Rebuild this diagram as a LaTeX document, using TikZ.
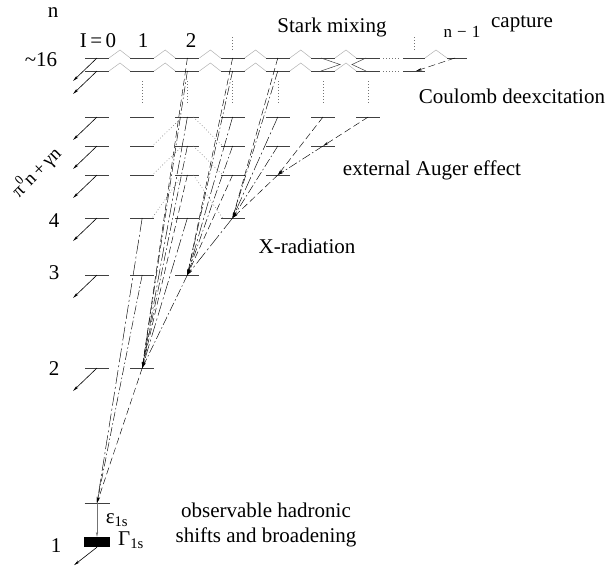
\documentclass[tikz,border=0pt]{standalone}
\usepackage{fontspec}
\setmainfont{Liberation Serif}
\usetikzlibrary{arrows.meta}
\tikzset{
  level/.style={black!75,line width=.6pt},
  decay/.style={-{Stealth[length=6pt,width=2.6pt]},line width=.6pt},
  tra/.style={-{Stealth[length=6pt,width=2.4pt]},line width=.45pt,dash pattern=on 7pt off 3.5pt},
  trb/.style={-{Stealth[length=6pt,width=2.4pt]},line width=.45pt,dash pattern=on 9pt off 2.5pt on 1.5pt off 2.5pt},
  trc/.style={-{Stealth[length=6pt,width=2.4pt]},line width=.45pt,dash pattern=on 14pt off 3pt on 2pt off 3pt},
  stark/.style={black!30,line width=.5pt},
  cdx/.style={black!55,line width=.6pt,dash pattern=on .7pt off 2.3pt},
  eps/.style={black!55,line width=.6pt,-{Stealth[length=5pt,width=2.4pt]}},
  lbl/.style={font=\fontsize{21}{24.5}\selectfont}
}
\begin{document}
\begin{tikzpicture}[x=1pt,y=-1pt,inner sep=0pt]
\useasboundingbox (0,0) rectangle (608,566);
% levels
\foreach \n/\y/\m in {7/117/6,6/146/5,5/175/4,4/218/3,3/275/2,2/368/1,a/58/6,b/71/6}
  \foreach \l in {0,...,\m}{
    \coordinate (L\n\l) at ({97+45.2*\l},\y);
    \draw[level] ([xshift=-12pt]L\n\l) -- ([xshift=12pt]L\n\l);}
\coordinate (La-n2) at (414,58);\coordinate (Lb-n2) at (414,71);\coordinate (La-n1) at (457,58);
\draw[level] ([xshift=-11pt]La-n2) -- ([xshift=11pt]La-n2);
\draw[level] ([xshift=-11pt]Lb-n2) -- ([xshift=11pt]Lb-n2);
\draw[level] ([xshift=-10pt]La-n1) -- ([xshift=10pt]La-n1);
\coordinate (L10) at (97,503);
\draw[level] ([xshift=-12.5pt]L10) -- ([xshift=12.5pt]L10);
\node[fill=black,minimum width=26pt,minimum height=10pt] (bar) at (97,542) {};
% stark mixing and ladders
\foreach \r in {a,b}{
  \foreach \l [evaluate=\l as \k using int(\l+1)] in {0,...,5}
    \draw[stark] ([xshift=12pt]L\r\l) -- ++(11,-8) -- ([xshift=-12pt]L\r\k);
  \draw[cdx] ([xshift=15pt]L\r6) -- ([xshift=-14pt]L\r-n2);}
\draw[stark] ([xshift=11pt]La-n2) -- ++(11,-8) -- ([xshift=-10pt]La-n1);
\draw[level,line width=.5pt] (321,58) -- (340,64.5) -- (321,71);
\draw[level,line width=.5pt] (366,58) -- (352,64.5) -- (366,71);
\foreach \l in {1,...,6} \draw[cdx] ([yshift=-10pt]Lb\l) -- ([yshift=14pt]L7\l);
\draw[cdx] ([yshift=8pt]La3) -- ([yshift=21pt]La3);
\draw[cdx] ([yshift=8pt]La-n2) -- ([yshift=21pt]La-n2);
\foreach \n/\m in {7/6,6/5,5/4}{
  \draw[cdx] ([xshift=-5pt]L\n2) -- ([xshift=10pt]L\m1);
  \draw[cdx] ([xshift=6pt]L\n2) -- ([xshift=-10pt]L\m3);}
% decays
\foreach \s in {a0,b0,70,60,50,40,30,20}{
  \path (L\s) ++(-24,23) coordinate (E\s);
  \draw[decay] (L\s) -- (E\s);}
\path (bar.south) ++(-23,18) coordinate (Ebar);
\draw[decay] (bar.south) -- (Ebar);
\draw[eps] (L10) -- (bar.north);
% radiative and Auger transitions
\foreach \s/\st in {21/tra,31/trb,41/trc} \draw[\st] (L\s) -- (L10);
\foreach \s/\st in {32/trb,42/trc,52/tra,62/trb,72/trc,a2/tra,b2/trb} \draw[\st] (L\s) -- (L21);
\foreach \s/\st in {43/trc,53/tra,63/trb,73/trc,a3/tra,b3/trb} \draw[\st] (L\s) -- (L32);
\foreach \s/\st in {54/tra,64/trb,74/trc,a4/tra,b4/trb} \draw[\st] (L\s) -- (L43);
\foreach \s/\st in {65/trb,75/tra} \draw[\st] (L\s) -- (L54);
\draw[tra] (L76) -- (L65);
\draw[tra] ([xshift=-2pt]La-n1) -- ([xshift=2pt]Lb-n2);
% labels
\begin{scope}[lbl]
\node (lbl-n) at (53,13) {n};
\node (lbl-16) at (41,60) {\textasciitilde16};
\node (lbl-l0) at (98,41) {I\,=\,0};
\node (lbl-l1) at (143,41) {1};
\node (lbl-l2) at (191,41) {2};
\node[font=\fontsize{17}{20}\selectfont] (lbl-ln1) at (462,32) {n\hspace{.3em}−\hspace{.3em}1};
\node (lbl-stark) at (332,27) {Stark mixing};
\node (lbl-capture) at (522,24) {capture};
\node (lbl-coulomb) at (512,96) {Coulomb deexcitation};
\node (lbl-auger) at (432,170) {external Auger effect};
\node (lbl-xray) at (307,246) {X-radiation};
\node[align=center] (lbl-shift) at (266,525) {observable hadronic\\shifts and broadening};
\node (lbl-4) at (54,221) {4};
\node (lbl-3) at (54,273) {3};
\node (lbl-2) at (54,369) {2};
\node (lbl-1) at (56,546) {1};
\node[rotate=45,font=\fontsize{19}{22}\selectfont] (lbl-pi) at (36,172) {π\raisebox{.45em}{\fontsize{13}{14}\selectfont 0}n\,+\,γn};
\node (lbl-eps) at (117,520) {ε\textsubscript{1s}};
\node (lbl-gam) at (131,540) {Γ\textsubscript{1s}};
\end{scope}
\end{tikzpicture}
\end{document}
